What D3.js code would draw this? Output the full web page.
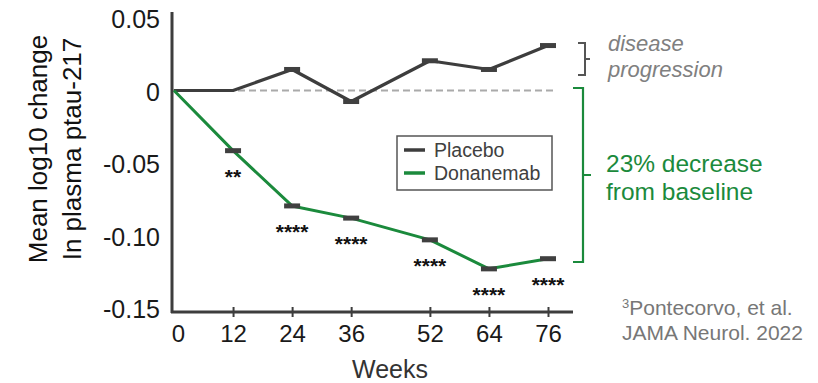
<!DOCTYPE html>
<html><head><meta charset="utf-8">
<script src="https://cdn.jsdelivr.net/npm/d3@7"></script>
<style>html,body{margin:0;padding:0;background:#fff;}svg{display:block;font-family:"Liberation Sans",Arial,sans-serif;}</style>
</head><body>
<script>
const weeks = [0, 12, 24, 36, 52, 64, 76];
const placebo = [0, 0, 0.0145, -0.0076, 0.0205, 0.0145, 0.031];
const donanemab = [0, -0.0415, -0.0796, -0.088, -0.103, -0.123, -0.116];
const stars = ["", "**", "****", "****", "****", "****", "****"];
const yTicks = [0.05, 0, -0.05, -0.10, -0.15];
const yTickLabels = ["0.05", "0", "-0.05", "-0.10", "-0.15"];
const xTicks = [0, 12, 24, 36, 52, 64, 76];
const seriesNames = ["Placebo", "Donanemab"];

const W = 818, H = 383;
const dark = "#3d3d3d", green = "#1b8a3c";
const svg = d3.select("body").append("svg").attr("width", W).attr("height", H);
svg.append("rect").attr("width", W).attr("height", H).attr("fill", "#fff");

const x = d3.scaleLinear().domain([0, 76]).range([174, 548]);
const y = d3.scaleLinear().domain([-0.15, 0.05]).range([308, 18]);

// baseline dashed
svg.append("line").attr("x1", 172).attr("x2", 556).attr("y1", y(0)).attr("y2", y(0))
  .attr("stroke", "#aaa").attr("stroke-width", 2).attr("stroke-dasharray", "7,4");

// y axis
const yAxis = d3.axisLeft(y).tickValues(yTicks).tickSize(0).tickPadding(12)
  .tickFormat((d, i) => yTickLabels[i]);
const gy = svg.append("g").attr("transform", "translate(172,0)").call(yAxis);
gy.select(".domain").remove();
gy.selectAll("text").attr("font-size", 25).attr("fill", "#1a1a1a")
  .attr("font-family", "Liberation Sans, Arial, sans-serif").attr("dy", "0.38em");
svg.append("line").attr("x1", 172).attr("x2", 172).attr("y1", 12).attr("y2", 313)
  .attr("stroke", dark).attr("stroke-width", 3);

// x axis
const xAxis = d3.axisBottom(x).tickValues(xTicks).tickSize(5).tickPadding(8);
const gx = svg.append("g").attr("transform", "translate(0,312)").call(xAxis);
gx.select(".domain").remove();
gx.selectAll(".tick line").attr("stroke", dark).attr("stroke-width", 2).attr("y1", -5)
  .filter(d => d === 0).remove();
gx.selectAll("text").attr("font-size", 24).attr("fill", "#1a1a1a")
  .attr("font-family", "Liberation Sans, Arial, sans-serif")
  .attr("dx", d => d === 0 ? 4 : 0);
svg.append("line").attr("x1", 171).attr("x2", 573).attr("y1", 312).attr("y2", 312)
  .attr("stroke", dark).attr("stroke-width", 3);

// axis titles
svg.append("text").attr("x", 390).attr("y", 378).attr("text-anchor", "middle")
  .attr("font-size", 25).attr("fill", "#333").text("Weeks");
const yl = svg.append("text").attr("transform", "translate(47,149) rotate(-90)")
  .attr("text-anchor", "middle").attr("font-size", 26).attr("fill", "#111");
yl.append("tspan").attr("x", 0).attr("y", 0).text("Mean log10 change");
yl.append("tspan").attr("x", 0).attr("y", 34).text("In plasma ptau-217");

// lines
const line = d3.line().x((d, i) => x(weeks[i])).y(d => y(d));
svg.append("path").datum(placebo).attr("d", line).attr("fill", "none")
  .attr("stroke", dark).attr("stroke-width", 3.2).attr("stroke-linejoin", "round");
svg.append("path").datum(donanemab).attr("d", line).attr("fill", "none")
  .attr("stroke", green).attr("stroke-width", 3).attr("stroke-linejoin", "round");

// markers (error-bar caps; none visible where a point sits on baseline)
[placebo, donanemab].forEach(s => {
  svg.append("g").selectAll("rect").data(s.map((v, i) => [weeks[i], v]).filter(d => d[0] > 0 && d[1] !== 0))
    .join("rect").attr("x", d => x(d[0]) - 8).attr("y", d => y(d[1]) - 2.5)
    .attr("width", 16).attr("height", 5).attr("fill", "#404040");
});

// significance stars
svg.append("g").selectAll("text").data(stars.map((s, i) => [weeks[i], donanemab[i], s]).filter(d => d[2]))
  .join("text").attr("x", d => x(d[0])).attr("y", d => y(d[1]) + 33)
  .attr("text-anchor", "middle").attr("font-size", 21).attr("font-weight", "bold")
  .attr("fill", "#111").text(d => d[2]);

// legend
const lg = svg.append("g");
lg.append("rect").attr("x", 397).attr("y", 136).attr("width", 155).attr("height", 54)
  .attr("fill", "#fff").attr("stroke", "#555").attr("stroke-width", 1.5);
seriesNames.forEach((n, i) => {
  const yy = 150 + i * 23;
  lg.append("line").attr("x1", 404).attr("x2", 425).attr("y1", yy).attr("y2", yy)
    .attr("stroke", i === 0 ? dark : green).attr("stroke-width", 3.5);
  lg.append("text").attr("x", 434).attr("y", yy + 7).attr("font-size", 19.5)
    .attr("fill", "#404040").text(n);
});

// brackets
svg.append("path").attr("d", "M578,43 L585,43 L585,75 L578,75 M585,59 L590,59")
  .attr("fill", "none").attr("stroke", "#555").attr("stroke-width", 2);
svg.append("path").attr("d", "M573,88 L583,88 L583,262 L573,262 M583,175 L591,175")
  .attr("fill", "none").attr("stroke", green).attr("stroke-width", 2.2);

// annotations
svg.append("text").attr("x", 608).attr("y", 51).attr("font-size", 22).attr("font-style", "italic")
  .attr("fill", "#808080").text("disease");
svg.append("text").attr("x", 608).attr("y", 77).attr("font-size", 22).attr("font-style", "italic")
  .attr("fill", "#808080").text("progression");
svg.append("text").attr("x", 606).attr("y", 172).attr("font-size", 24.5)
  .attr("fill", green).text("23% decrease");
svg.append("text").attr("x", 606).attr("y", 200).attr("font-size", 24.5)
  .attr("fill", green).text("from baseline");

const c1 = svg.append("text").attr("x", 622).attr("y", 315).attr("font-size", 21).attr("fill", "#777");
c1.append("tspan").attr("font-size", 13).attr("dy", -7).text("3");
c1.append("tspan").attr("dy", 7).text("Pontecorvo, et al.");
svg.append("text").attr("x", 622).attr("y", 340).attr("font-size", 21).attr("fill", "#777")
  .text("JAMA Neurol. 2022");
</script>
</body></html>
